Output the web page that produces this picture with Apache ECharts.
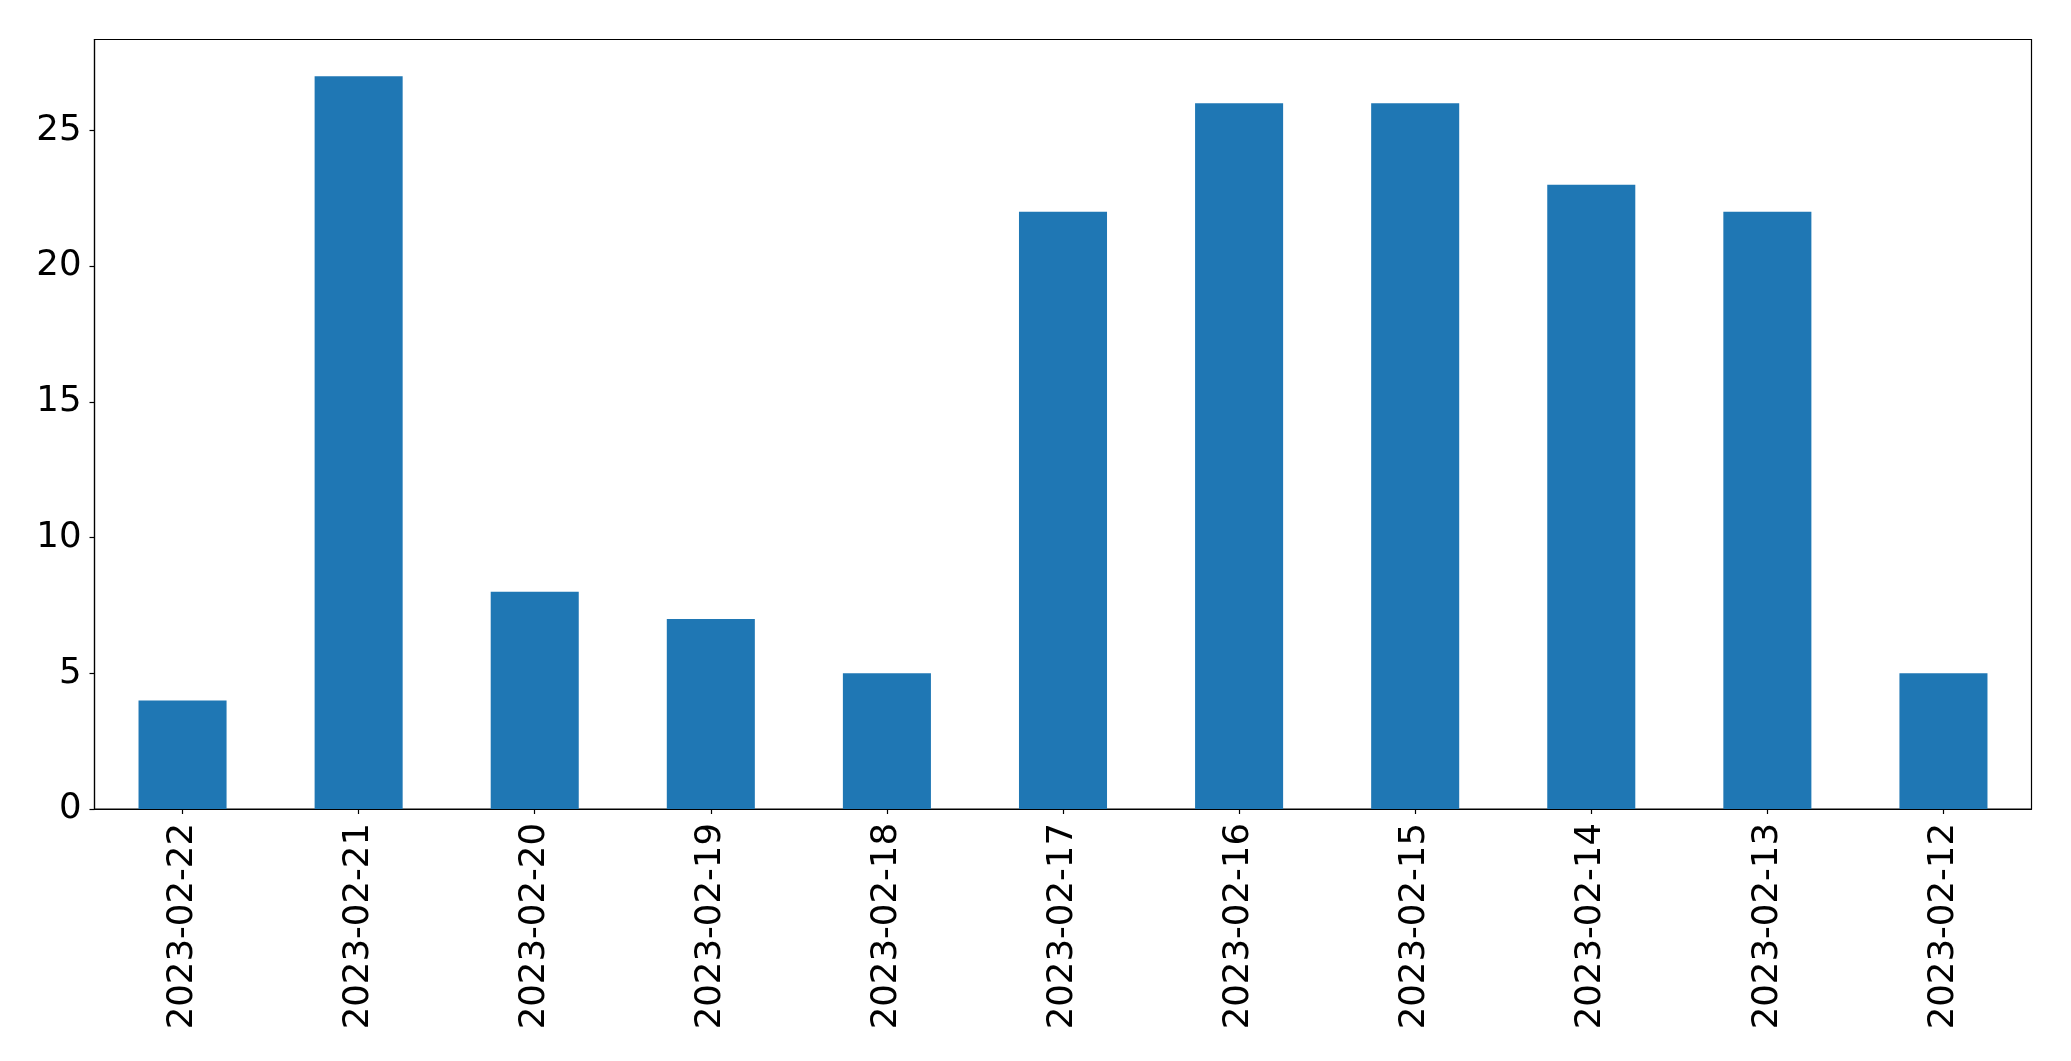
<!DOCTYPE html>
<html><head><meta charset="utf-8">
<script src="https://cdn.jsdelivr.net/npm/echarts@6/dist/echarts.min.js"></script>
<style>html,body{margin:0;padding:0;background:#fff}#c{width:2071px;height:1061px}</style>
</head><body><div id="c"></div>
<script>
const categories = ['2023-02-22','2023-02-21','2023-02-20','2023-02-19','2023-02-18','2023-02-17','2023-02-16','2023-02-15','2023-02-14','2023-02-13','2023-02-12'];
const values = [4, 27, 8, 7, 5, 22, 26, 26, 23, 22, 5];
const yTicks = [0, 5, 10, 15, 20, 25];

const chart = echarts.init(document.getElementById('c'), null, {renderer: 'canvas'});
chart.setOption({
  animation: false,
  backgroundColor: '#fff',
  grid: {left: 94.5, right: 39.5, top: 39.5, bottom: 252, show: true, borderColor: '#000', borderWidth: 1.2, backgroundColor: 'transparent'},
  xAxis: {
    type: 'category', data: categories,
    axisLine: {show: true, lineStyle: {color: '#000', width: 1.2}},
    axisTick: {show: true, alignWithLabel: true, length: 5, lineStyle: {color: '#000', width: 1.2}},
    axisLabel: {rotate: 90, margin: 14, color: '#000', fontSize: 35.5, fontFamily: 'DejaVu Sans', interval: 0},
    splitLine: {show: false}
  },
  yAxis: {
    type: 'value', min: 0, max: 28.35,
    axisLine: {show: true, lineStyle: {color: '#000', width: 1.2}},
    axisTick: {show: true, length: 5, customValues: yTicks, lineStyle: {color: '#000', width: 1.2}},
    axisLabel: {margin: 13, color: '#000', fontSize: 35.5, fontFamily: 'DejaVu Sans', customValues: yTicks},
    splitLine: {show: false}
  },
  series: [{
    type: 'bar', data: values, barWidth: '50%',
    itemStyle: {color: '#1f77b4'}
  }]
});
</script></body></html>
